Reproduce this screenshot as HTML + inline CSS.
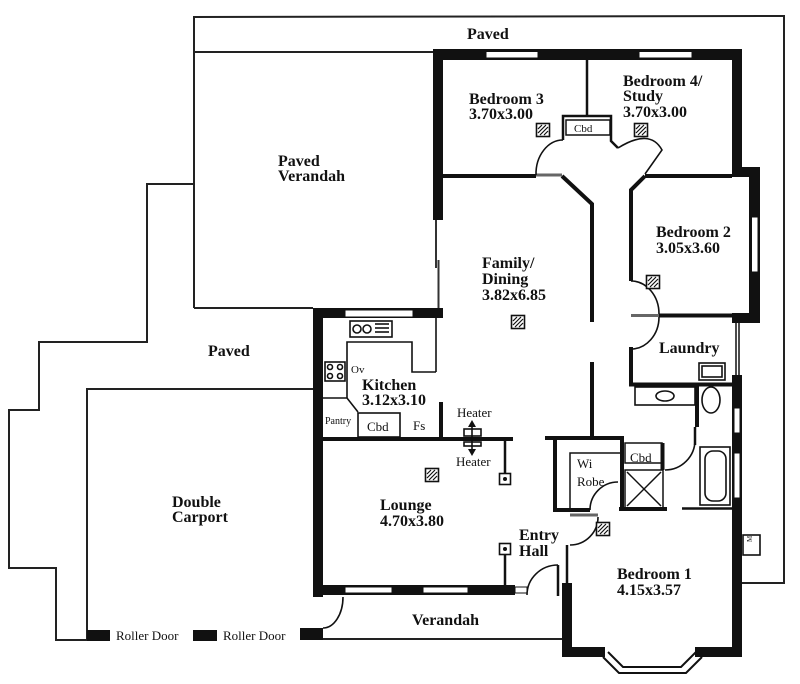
<!DOCTYPE html>
<html><head><meta charset="utf-8"><style>
html,body{margin:0;padding:0;background:#fff;}
svg{display:block;}
text{font-family:"Liberation Serif","Times New Roman",serif;fill:#111;}
.b{font-weight:bold;font-size:16px;}
.s{font-size:13px;}
.xs{font-size:11px;}
</style></head><body>
<svg width="800" height="684" viewBox="0 0 800 684" xmlns="http://www.w3.org/2000/svg">
<defs>
<g id="tile">
<rect x="0.5" y="0.5" width="13" height="13" fill="#fff" stroke="#111" stroke-width="1.6"/>
<path d="M2,6 L6,2 M2,10 L10,2 M4,12 L12,4 M8,12 L12,8" stroke="#111" stroke-width="1.2"/>
</g>
<g id="sock">
<rect x="0.5" y="0.5" width="11" height="11" fill="#fff" stroke="#111" stroke-width="1.6"/>
<circle cx="6" cy="6" r="2" fill="#111"/>
</g>
</defs>
<rect width="800" height="684" fill="#fff"/>

<!-- site outlines -->
<g stroke="#222" stroke-width="2" fill="none">
<polyline points="194,308 194,17 784,16 784,583 742,583"/>
<line x1="194" y1="52" x2="433" y2="52"/>
<polyline points="194,184 147,184 147,342 39,342 39,410 9,410 9,568 56,568 56,640 87,640"/>
<polyline points="87,640 87,389 313,389"/>
<line x1="194" y1="308" x2="313" y2="308"/>
<line x1="323" y1="639" x2="562" y2="639"/>
</g>

<!-- roller doors -->
<g fill="#111">
<rect x="87" y="630" width="23" height="11"/>
<rect x="193" y="630" width="24" height="11"/>
<rect x="300" y="628" width="23" height="12"/>
</g>
<path d="M323,628 A20,31 0 0 0 343,597" stroke="#111" stroke-width="1.6" fill="none"/>

<!-- thick exterior walls -->
<g fill="#111">
<rect x="433" y="49" width="309" height="11"/>
<rect x="433" y="49" width="10" height="171"/>
<rect x="732" y="49" width="10" height="128"/>
<rect x="732" y="167" width="28" height="10"/>
<rect x="749" y="167" width="11" height="156"/>
<rect x="732" y="313" width="28" height="10"/>
<rect x="732" y="375" width="10" height="282"/>
<rect x="562" y="583" width="10" height="74"/>
<rect x="562" y="647" width="43" height="10"/>
<rect x="695" y="647" width="47" height="10"/>
<rect x="313" y="308" width="10" height="289"/>
<rect x="313" y="308" width="130" height="10"/>
<rect x="313" y="585" width="202" height="10"/>
<rect x="323" y="437" width="190" height="4"/>
<rect x="439" y="402" width="4" height="36"/>
</g>

<!-- windows -->
<g fill="#fff" stroke="#111" stroke-width="1">
<rect x="486" y="51.5" width="52" height="6.5"/>
<rect x="639" y="51.5" width="53" height="6.5"/>
<rect x="751.5" y="217" width="6.5" height="55"/>
<rect x="734" y="408" width="6" height="25"/>
<rect x="734" y="453" width="6" height="45"/>
<rect x="345" y="310" width="68" height="7"/>
<rect x="345" y="587" width="47" height="6"/>
<rect x="423" y="587" width="45" height="6"/>
<rect x="515" y="587" width="12" height="6"/>
</g>

<!-- sliding door at family -->
<g stroke="#333" stroke-width="2">
<line x1="436" y1="220" x2="436" y2="268"/>
<line x1="438.5" y1="260" x2="438.5" y2="308"/>
</g>

<!-- interior walls -->
<g stroke="#111" stroke-width="4" fill="none" stroke-linejoin="miter">
<line x1="443" y1="176" x2="536" y2="176"/>
<polyline points="562,176 592,204 592,322"/>
<line x1="592" y1="362" x2="592" y2="437"/>
<line x1="645" y1="176" x2="732" y2="176"/>
<polyline points="645,176 631,190 631,281"/>
<line x1="631" y1="347" x2="631" y2="386"/>
<line x1="629" y1="384.5" x2="733" y2="384.5"/>
<line x1="659" y1="315.5" x2="750" y2="315.5"/>
<line x1="697" y1="384" x2="697" y2="427"/>
<line x1="545" y1="438" x2="624" y2="438"/>
<line x1="555" y1="438" x2="555" y2="512"/>
<line x1="553" y1="510" x2="590" y2="510"/>
<line x1="622" y1="438" x2="622" y2="511"/>
<line x1="619" y1="509" x2="667" y2="509"/>
<line x1="662.5" y1="443" x2="662.5" y2="470"/>
</g>
<g stroke="#111" stroke-width="2.5" fill="none">
<line x1="587" y1="60" x2="587" y2="117"/>
<polyline points="563,140 563,116 611,116 611,141 618,148"/>
<line x1="505" y1="441" x2="505" y2="473"/>
<line x1="505" y1="555" x2="505" y2="586"/>
<line x1="567" y1="545" x2="567" y2="584"/>
<line x1="558" y1="565" x2="558" y2="596"/>
<line x1="695" y1="427" x2="695" y2="445"/>
<line x1="682" y1="508.5" x2="732" y2="508.5"/>
</g>
<g stroke="#111" stroke-width="1.5" fill="none">
<rect x="566" y="120" width="44" height="15"/>
<line x1="736" y1="323" x2="736" y2="375"/>
<line x1="739" y1="323" x2="739" y2="375"/>
<rect x="625" y="443" width="37" height="20"/>
<rect x="625" y="470" width="38" height="38"/>
<line x1="627" y1="472" x2="661" y2="506"/>
<line x1="661" y1="472" x2="627" y2="506"/>
<polyline points="570,508 570,453 620,453"/>
</g>
<!-- grey door leaves -->
<g stroke="#666" stroke-width="3">
<line x1="536" y1="175" x2="562" y2="175"/>
<line x1="631" y1="315.5" x2="659" y2="315.5"/>
<line x1="570" y1="515" x2="598" y2="515"/>
</g>

<!-- door arcs -->
<g stroke="#111" stroke-width="1.6" fill="none">
<path d="M536,175 A27,34 0 0 1 563,140"/>
<path d="M618,148 Q650,128 662,150 L645,174"/>
<path d="M631,281 A28,33 0 0 1 659,314"/>
<path d="M659,317 A28,32 0 0 1 631,349"/>
<path d="M665,470 A30,30 0 0 0 695,440"/>
<path d="M590,510 A28,28 0 0 1 618,482"/>
<path d="M570,545 A28,28 0 0 0 598,517"/>
<path d="M527,595 A31,30 0 0 1 558,565"/>
</g>

<!-- bay window -->
<g stroke="#111" stroke-width="2" fill="none">
<polyline points="603,657 619,673 686,673 702,657"/>
<polyline points="608,652 623,667 681,667 696,652"/>
</g>

<!-- kitchen fittings -->
<g stroke="#111" stroke-width="1.6" fill="none">
<polyline points="347,398 347,342 412,342 412,372 436,372"/>
<line x1="436" y1="318" x2="436" y2="372"/>
<polyline points="323,398 347,398 358,412"/>
<rect x="358" y="413" width="42" height="24"/>
<rect x="350" y="321" width="42" height="16"/>
<circle cx="357" cy="329" r="4"/>
<circle cx="367" cy="329" r="4"/>
<line x1="375" y1="324" x2="389" y2="324"/>
<line x1="375" y1="328" x2="389" y2="328"/>
<line x1="375" y1="332" x2="389" y2="332"/>
<rect x="325" y="362" width="20" height="19"/>
<circle cx="330" cy="367" r="2.5"/>
<circle cx="340" cy="367" r="2.5"/>
<circle cx="330" cy="376" r="2.5"/>
<circle cx="340" cy="376" r="2.5"/>
<!-- laundry/bath fittings -->
<rect x="635" y="387" width="60" height="18"/>
<ellipse cx="665" cy="396" rx="9" ry="5"/>
<rect x="699" y="363" width="26" height="17"/>
<rect x="702" y="366" width="20" height="11"/>
<ellipse cx="711" cy="400" rx="9" ry="13"/>
<rect x="700" y="447" width="30" height="58"/>
<rect x="705" y="451" width="21" height="50" rx="8"/>
<!-- heater -->
<line x1="472" y1="424" x2="472" y2="452"/>
<rect x="464" y="429" width="17" height="7"/>
<rect x="464" y="442" width="17" height="4"/>
<!-- meter box -->
<rect x="743" y="535" width="17" height="20"/>
</g>
<path d="M468,427 L472,420 L476,427 Z M468,449 L472,456 L476,449 Z" fill="#111"/>

<!-- tiles / sockets -->
<use href="#tile" x="536" y="123"/>
<use href="#tile" x="634" y="123"/>
<use href="#tile" x="646" y="275"/>
<use href="#tile" x="511" y="315"/>
<use href="#tile" x="425" y="468"/>
<use href="#tile" x="596" y="522"/>
<use href="#sock" x="499" y="473"/>
<use href="#sock" x="499" y="543"/>

<!-- labels -->
<text class="b" x="467" y="39">Paved</text>
<text class="b" x="469" y="104">Bedroom 3</text>
<text class="b" x="469" y="119">3.70x3.00</text>
<text class="b" x="623" y="86">Bedroom 4/</text>
<text class="b" x="623" y="101">Study</text>
<text class="b" x="623" y="117">3.70x3.00</text>
<text class="b" x="278" y="166">Paved</text>
<text class="b" x="278" y="181">Verandah</text>
<text class="b" x="656" y="237">Bedroom 2</text>
<text class="b" x="656" y="253">3.05x3.60</text>
<text class="b" x="482" y="268">Family/</text>
<text class="b" x="482" y="284">Dining</text>
<text class="b" x="482" y="300">3.82x6.85</text>
<text class="b" x="208" y="356">Paved</text>
<text class="b" x="659" y="353">Laundry</text>
<text class="b" x="362" y="390">Kitchen</text>
<text class="b" x="362" y="405">3.12x3.10</text>
<text class="b" x="380" y="510">Lounge</text>
<text class="b" x="380" y="526">4.70x3.80</text>
<text class="b" x="519" y="540">Entry</text>
<text class="b" x="519" y="556">Hall</text>
<text class="b" x="617" y="579">Bedroom 1</text>
<text class="b" x="617" y="595">4.15x3.57</text>
<text class="b" x="412" y="625">Verandah</text>
<text class="b" x="172" y="507">Double</text>
<text class="b" x="172" y="522">Carport</text>

<text class="s" x="457" y="417">Heater</text>
<text class="s" x="456" y="466">Heater</text>
<text class="s" x="577" y="468">Wi</text>
<text class="s" x="577" y="486">Robe</text>
<text class="s" x="630" y="462">Cbd</text>
<text class="s" x="367" y="431">Cbd</text>
<text class="s" x="413" y="430">Fs</text>
<text class="xs" x="574" y="132">Cbd</text>
<text class="xs" x="325" y="424" style="font-size:10px">Pantry</text>
<text class="xs" x="351" y="373">Ov</text>
<text class="s" x="116" y="640">Roller Door</text>
<text class="s" x="223" y="640">Roller Door</text>
<text x="755" y="545" style="font-size:7px" transform="rotate(-90 752 545)">M</text>
</svg>
</body></html>
